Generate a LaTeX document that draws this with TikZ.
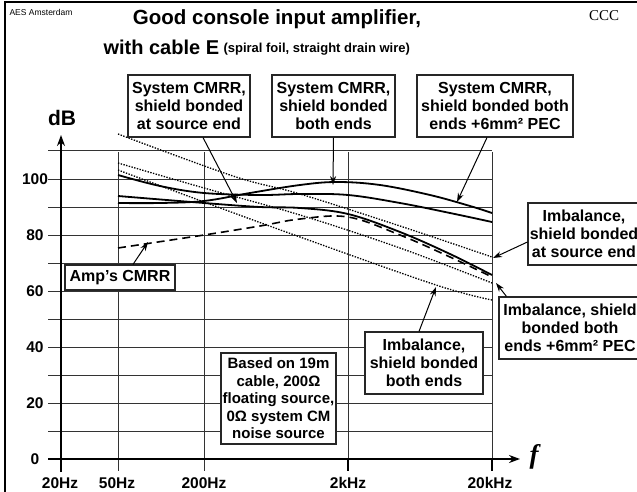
\documentclass[tikz,border=0pt]{standalone}
\usepackage{fontspec}
\setmainfont{Liberation Sans}
\newfontfamily\seriffam{Liberation Serif}
\usetikzlibrary{arrows.meta,calc}
\begin{document}
\begin{tikzpicture}[x=1pt,y=-1pt,
  box/.style={draw=black!85,line width=1.1pt,fill=white,align=center,inner sep=0pt,
    font=\bfseries\fontsize{16}{18}\selectfont},
  gridln/.style={line width=1pt,black!80},
  crv/.style={line width=1.8pt},
  imbline/.style={line width=1.3pt,dash pattern=on 1.4pt off 1.4pt},
  ampline/.style={line width=1.6pt,dash pattern=on 8pt off 5pt},
  lbl/.style={font=\bfseries\fontsize{15.5}{17}\selectfont},
  arr/.style={line width=1pt,-{Stealth[length=9pt,width=6pt]}},
  axis/.style={line width=2.5pt,-{Stealth[length=11pt,width=8pt]}}
]
\useasboundingbox (0,0) rectangle (637,492);
% frame
\draw[line width=2.5pt] (5,492) -- (5,2) -- (637,2);
% titles
\node[font=\fontsize{8.5}{10}\selectfont,anchor=west] (aes) at (6,12) {AES Amsterdam};
\node[font=\seriffam\fontsize{15}{16}\selectfont] (ccc) at (604,16) {CCC};
\node[font=\bfseries\fontsize{20.5}{24}\selectfont] (title1) at (277,19) {Good console input amplifier,};
\node[font=\bfseries\fontsize{20}{24}\selectfont,anchor=west] (title2) at (100,47) {with cable E};
\node[font=\bfseries\fontsize{13}{15}\selectfont,anchor=west] (title3) at (220,49) {(spiral foil, straight drain wire)};
% grid
\foreach \v in {10,20,...,110} \draw[gridln] (48,{459-2.8*\v}) -- (492,{459-2.8*\v});
\foreach \x in {118,204,348,492} \draw[gridln] (\x,152) -- (\x,471);
% axes
\draw[axis] (61,472) -- (61,135);
\draw[axis] (48,459) -- (520,459);
\foreach \x in {348,492} \draw[line width=2pt] (\x,459) -- (\x,471);
% axis labels
\node[font=\bfseries\fontsize{21}{24}\selectfont] (db) at (62,118) {dB};
\node[font=\seriffam\bfseries\itshape\fontsize{27}{30}\selectfont] (f) at (534,457) {f};
\foreach \v in {0,20,...,100} \node[lbl] (y\v) at (35,{459-2.8*\v}) {\v};
\node[lbl] (x1) at (60,483) {20Hz};
\node[lbl] (x2) at (117,483) {50Hz};
\node[lbl] (x3) at (204,483) {200Hz};
\node[lbl] (x4) at (348,483) {2kHz};
\node[lbl] (x5) at (490,483) {20kHz};
% imbalance curves (dotted)
\draw[imbline] plot[smooth,tension=0.6] coordinates {(118,134) (233,176) (300,194) (400,226) (492,257)};
\draw[imbline] plot[smooth,tension=0.6] coordinates {(118,163) (204,188) (300,215) (400,248) (492,283)};
\draw[imbline] plot[smooth,tension=0.6] coordinates {(118,170) (204,202) (300,237) (436,285) (492,300)};
% amp CMRR (dashed)
\draw[ampline] plot[smooth,tension=0.6] coordinates {(118,248) (204,235) (260,226) (300,219) (348,217) (400,235) (450,257) (490,276)};
% system CMRR curves
\draw[crv] plot[smooth,tension=0.6] coordinates {(118,203) (160,203) (204,201) (250,193) (300,185) (337,182) (380,185) (430,195) (470,206) (492,213)};
\draw[crv] plot[smooth,tension=0.6] coordinates {(118,175) (160,186) (204,193) (260,195) (300,194) (348,195) (400,203) (450,213) (492,222)};
\draw[crv] plot[smooth,tension=0.6] coordinates {(118,196) (204,203) (260,207) (300,208) (348,214) (400,232) (450,254) (492,275)};
% boxes
\node[box,minimum width=122pt,minimum height=62pt] (b1) at (189,106) {System CMRR,\\shield bonded\\at source end};
\node[box,minimum width=123pt,minimum height=62pt] (b2) at (333.5,106) {System CMRR,\\shield bonded\\both ends};
\node[box,minimum width=156pt,minimum height=62pt] (b3) at (495,106) {System CMRR,\\shield bonded both\\ends +6mm² PEC};
\node[box,minimum width=110pt,minimum height=25pt] (amp) at (120,277.5) {Amp’s CMRR};
\node[box,minimum width=112pt,minimum height=62pt] (imb1) at (584,234) {Imbalance,\\shield bonded\\at source end};
\node[box,minimum width=142pt,minimum height=62pt] (imb3) at (570,328) {Imbalance, shield\\bonded both\\ends +6mm² PEC};
\node[box,minimum width=118pt,minimum height=62pt] (imb2) at (424,363) {Imbalance,\\shield bonded\\both ends};
\node[box,minimum width=115pt,minimum height=91pt,font=\bfseries\fontsize{15}{17.5}\selectfont] (note) at (278.5,398.5) {Based on 19m\\cable, 200Ω\\floating source,\\0Ω system CM\\noise source};
% arrow tips
\coordinate (p1) at (237,203);
\coordinate (p2) at (333,185);
\coordinate (p3) at (457,202);
\coordinate (pa) at (148,242);
\coordinate (pi1) at (493,258);
\coordinate (pi3) at (496,283);
\coordinate (pi2) at (436,287);
\draw[arr] ($(b1.south)+(14,0)$) -- (p1);
\draw[arr] (b2.south) -- (p2);
\draw[arr] ($(b3.south)+(-8,0)$) -- (p3);
\draw[arr] ($(amp.north)+(13,0)$) -- (pa);
\draw[arr] ($(imb1.west)+(0,8)$) -- (pi1);
\draw[arr] ($(imb3.north west)+(8,0)$) -- (pi3);
\draw[arr] ($(imb2.north)+(-5,0)$) -- (pi2);
\end{tikzpicture}
\end{document}
